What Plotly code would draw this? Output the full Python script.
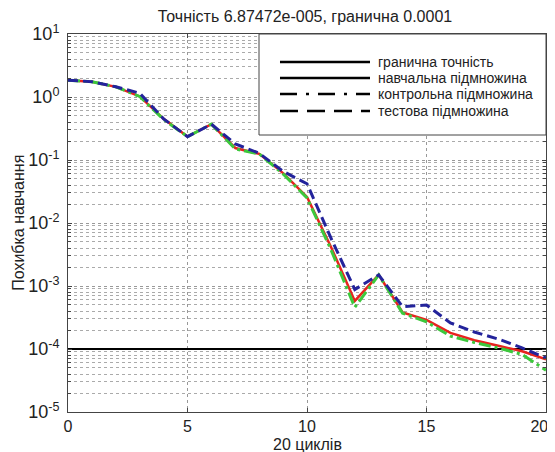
import plotly.graph_objects as go

epochs = list(range(21))
train = [1.85, 1.75, 1.45, 1.02, 0.45, 0.235, 0.37, 0.155, 0.125, 0.062, 0.026,
         0.0042, 0.00058, 0.0015, 0.00038, 0.00029, 0.00018, 0.000138, 0.000113,
         0.000092, 6.87472e-5]
val = [1.85, 1.75, 1.45, 1.02, 0.44, 0.235, 0.37, 0.15, 0.125, 0.06, 0.025,
       0.0038, 0.00046, 0.0015, 0.00037, 0.00027, 0.00016, 0.000127, 0.000104,
       0.000082, 4.6e-5]
test = [1.85, 1.75, 1.45, 1.15, 0.45, 0.235, 0.37, 0.18, 0.128, 0.066, 0.042,
        0.0058, 0.00088, 0.0015, 0.00047, 0.0005, 0.00026, 0.000186, 0.000144,
        0.000104, 7.2e-5]
goal = 1e-4
legend_labels = ["гранична точність", "навчальна підмножина",
                 "контрольна підмножина", "тестова підмножина"]
y_tickvals = [1e-5, 1e-4, 1e-3, 1e-2, 1e-1, 1, 10]
y_ticktext = ["10<sup>-5</sup>", "10<sup>-4</sup>", "10<sup>-3</sup>", "10<sup>-2</sup>",
              "10<sup>-1</sup>", "10<sup>0</sup>", "10<sup>1</sup>"]
x_tickvals = [0, 5, 10, 15, 20]
x_ticktext = ["0", "5", "10", "15", "20&nbsp;&nbsp;&nbsp;"]

FONT = "Liberation Sans, Arial, sans-serif"
fig = go.Figure()
fig.add_trace(go.Scatter(x=[epochs[0], epochs[-1]], y=[goal, goal], mode="lines",
                         line=dict(color="black", width=2), showlegend=False))
fig.add_trace(go.Scatter(x=epochs, y=train, mode="lines",
                         line=dict(color="#e8231e", width=2.5), showlegend=False))
fig.add_trace(go.Scatter(x=epochs, y=val, mode="lines",
                         line=dict(color="#3cc83c", width=3, dash="12px,4px,3px,4px"),
                         showlegend=False))
fig.add_trace(go.Scatter(x=epochs, y=test, mode="lines",
                         line=dict(color="#23239b", width=3, dash="10px,5px"),
                         showlegend=False))

minor_vals = [k * 10 ** p for p in range(-5, 1) for k in range(2, 10)]

# legend drawn manually (box, samples, texts)
shapes = [dict(type="rect", xref="paper", yref="paper", x0=0.3996, x1=1.0, y0=0.7328, y1=1.0,
               fillcolor="white", line=dict(color="#444", width=1), layer="above")]
rows = [0.926, 0.8836, 0.8413, 0.7963]
dashes = ["solid", "solid", "17px,9px,3px,9px", "18px,9px"]
annotations = []
for r, d, lab in zip(rows, dashes, legend_labels):
    shapes.append(dict(type="line", xref="paper", yref="paper", x0=0.4435, x1=0.6318, y0=r, y1=r,
                       line=dict(color="black", width=2.5, dash=d), layer="above"))
    annotations.append(dict(xref="paper", yref="paper", x=0.644, y=r, text=lab, showarrow=False,
                            xanchor="left", yanchor="middle",
                            font=dict(family=FONT, size=14, color="#222")))

annotations.append(dict(xref="paper", yref="paper", x=-0.105, y=0.5, text="Похибка навчання",
                        textangle=-90, showarrow=False, xanchor="center", yanchor="middle",
                        font=dict(family=FONT, size=16, color="#222")))
annotations.append(dict(xref="paper", yref="paper", x=0.5, y=-0.087, text="20 циклів",
                        showarrow=False, xanchor="center", yanchor="middle",
                        font=dict(family=FONT, size=16, color="#222")))

# page body has an 8px default margin, so the figure is 8px smaller and shifted
fig.update_layout(
    width=547, height=444,
    margin=dict(l=60, r=9, t=26, b=40, autoexpand=False),
    paper_bgcolor="white", plot_bgcolor="white",
    title=dict(text="Точність 6.87472e-005, гранична 0.0001", x=0.543, xanchor="center",
               y=0.981, yanchor="middle", font=dict(family=FONT, size=16, color="#222")),
    font=dict(family=FONT, color="#222"),
    shapes=shapes, annotations=annotations,
    showlegend=False,
)
fig.update_xaxes(range=[0, 20], tickvals=x_tickvals, ticktext=x_ticktext,
                 showline=True, linecolor="#444", linewidth=1,
                 mirror="allticks", ticks="inside", ticklen=4, tickcolor="#444", automargin=False,
                 ticklabeloverflow="allow",
                 showgrid=True, gridcolor="#999", griddash="dot", gridwidth=1, zeroline=False,
                 tickfont=dict(family=FONT, size=16, color="#222"))
fig.update_yaxes(type="log", range=[-5, 1], tickvals=y_tickvals, ticktext=y_ticktext,
                 showline=True, linecolor="#444", linewidth=1, mirror="allticks", automargin=False,
                 ticks="inside", ticklen=4, tickcolor="#444",
                 showgrid=True, gridcolor="#999", griddash="dot", gridwidth=1, zeroline=False,
                 tickfont=dict(family=FONT, size=18, color="#222"), ticklabelstandoff=4,
                 minor=dict(tickvals=minor_vals, showgrid=True, gridcolor="#aaa", griddash="dot",
                            gridwidth=1, ticks="inside", ticklen=3, tickcolor="#444"))

fig.write_html("out.html")
